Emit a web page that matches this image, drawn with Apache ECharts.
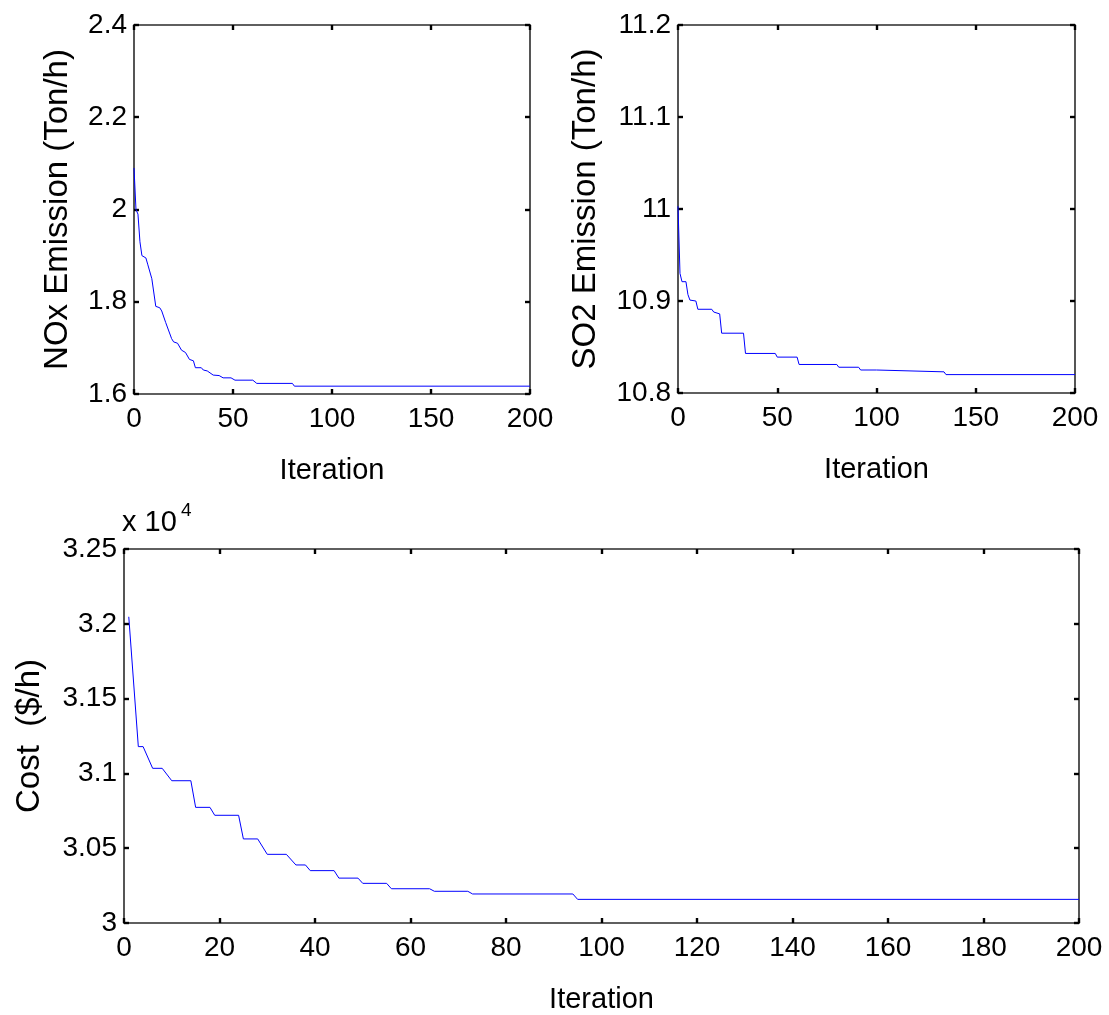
<!DOCTYPE html>
<html>
<head>
<meta charset="utf-8">
<script src="https://cdn.jsdelivr.net/npm/echarts@6/dist/echarts.min.js"></script>
<style>
html,body{margin:0;padding:0;background:#fff;}
#chart{width:1109px;height:1015px;}
</style>
</head>
<body>
<div id="chart"></div>
<script>
// ---- Data ----
const noxIter = [0,1,2,3,4,6,7,9,11,13,14,16,17,19,20,22,24,26,28,30,31,34,35,37,40,43,45,49,51,60,62,80,81,200];
const noxVal  = [2.090,2.000,1.990,1.930,1.900,1.895,1.880,1.850,1.790,1.787,1.780,1.755,1.752,1.720,1.713,1.710,1.695,1.690,1.675,1.672,1.657,1.657,1.652,1.650,1.641,1.640,1.635,1.635,1.630,1.630,1.623,1.623,1.617,1.617];

const so2Iter = [0,1,2,4,5,6,9,10,17,18,21,22,33,34,49,50,60,61,80,81,91,92,100,101,134,135,200];
const so2Val  = [11.003,10.930,10.921,10.921,10.907,10.901,10.900,10.891,10.891,10.888,10.886,10.865,10.865,10.843,10.843,10.839,10.839,10.831,10.831,10.828,10.828,10.825,10.825,10.823,10.823,10.820,10.820];

// cost in units of 10^4 $/h
const costIter = [1,3,4,6,8,10,14,15,18,19,24,25,28,30,34,36,38,39,44,45,49,50,55,56,64,65,72,73,94,95,200];
const costVal  = [3.2047,3.1179,3.1179,3.1034,3.1034,3.0951,3.0951,3.0773,3.0773,3.0720,3.0720,3.0562,3.0562,3.0459,3.0459,3.0388,3.0388,3.0350,3.0350,3.0300,3.0300,3.0265,3.0265,3.0229,3.0229,3.0212,3.0212,3.0194,3.0194,3.0158,3.0158];

const xTitle = 'Iteration';
const noxTitle = 'NOx Emission (Ton/h)';
const so2Title = 'SO2 Emission (Ton/h)';
const costTitle = 'Cost  ($/h)';

// ---- Styling ----
const NARROW = "'Liberation Sans Narrow', 'Liberation Sans', Arial, sans-serif";
const REG = "'Liberation Sans', Arial, sans-serif";
const lblSize = 28;
const axisColor = '#2b2b2b';

function zip(a, b) { return a.map((v, i) => [v, b[i]]); }

function xAx(grid, pos, min, max, interval, labeled) {
  return {
    type: 'value', gridIndex: grid, position: pos, min: min, max: max, interval: interval,
    axisLine: {show: true, onZero: false, lineStyle: {color: axisColor, width: 1.6}},
    axisTick: {show: true, inside: true, length: 5, lineStyle: {color: '#000', width: 2.4}},
    axisLabel: {show: labeled, color: '#000', fontFamily: NARROW, fontSize: lblSize, margin: 11},
    splitLine: {show: false},
    name: labeled ? xTitle : '', nameLocation: 'middle', nameGap: 62,
    nameTextStyle: {color: '#000', fontFamily: NARROW, fontSize: 29}
  };
}
function yAx(grid, pos, min, max, interval, labeled, title, gap) {
  return {
    type: 'value', gridIndex: grid, position: pos, min: min, max: max, interval: interval,
    axisLine: {show: true, onZero: false, lineStyle: {color: axisColor, width: 1.6}},
    axisTick: {show: true, inside: true, length: 5, lineStyle: {color: '#000', width: 2.4}},
    axisLabel: {show: labeled, color: '#000', fontFamily: NARROW, fontSize: lblSize, margin: 7},
    splitLine: {show: false},
    name: labeled ? title : '', nameLocation: 'middle', nameGap: gap || 60, nameRotate: 90,
    nameTextStyle: {color: '#000', fontFamily: REG, fontSize: 33}
  };
}

const option = {
  animation: false,
  backgroundColor: '#fff',
  grid: [
    {left: 134, top: 25, width: 396, height: 369},
    {left: 678, top: 25, width: 397, height: 368},
    {left: 124, top: 549, width: 955, height: 374}
  ],
  xAxis: [
    xAx(0, 'bottom', 0, 200, 50, true),
    xAx(0, 'top', 0, 200, 50, false),
    xAx(1, 'bottom', 0, 200, 50, true),
    xAx(1, 'top', 0, 200, 50, false),
    xAx(2, 'bottom', 0, 200, 20, true),
    xAx(2, 'top', 0, 200, 20, false)
  ],
  yAxis: [
    yAx(0, 'left', 1.6, 2.4, 0.2, true, noxTitle, 60),
    yAx(0, 'right', 1.6, 2.4, 0.2, false),
    yAx(1, 'left', 10.8, 11.2, 0.1, true, so2Title, 76),
    yAx(1, 'right', 10.8, 11.2, 0.1, false),
    yAx(2, 'left', 3.0, 3.25, 0.05, true, costTitle, 78),
    yAx(2, 'right', 3.0, 3.25, 0.05, false)
  ],
  graphic: [
    {type: 'text', left: 122, top: 508, style: {text: 'x 10', font: '29px ' + NARROW, fill: '#000'}},
    {type: 'text', left: 181, top: 501, style: {text: '4', font: '19px ' + NARROW, fill: '#000'}}
  ],
  series: [
    {type: 'line', xAxisIndex: 0, yAxisIndex: 0, data: zip(noxIter, noxVal), showSymbol: false,
     lineStyle: {color: '#0000ff', width: 1}, itemStyle: {color: '#0000ff'}},
    {type: 'line', xAxisIndex: 2, yAxisIndex: 2, data: zip(so2Iter, so2Val), showSymbol: false,
     lineStyle: {color: '#0000ff', width: 1}, itemStyle: {color: '#0000ff'}},
    {type: 'line', xAxisIndex: 4, yAxisIndex: 4, data: zip(costIter, costVal), showSymbol: false,
     lineStyle: {color: '#0000ff', width: 1}, itemStyle: {color: '#0000ff'}}
  ]
};

const chart = echarts.init(document.getElementById('chart'), null, {renderer: 'canvas'});
chart.setOption(option);
</script>
</body>
</html>
